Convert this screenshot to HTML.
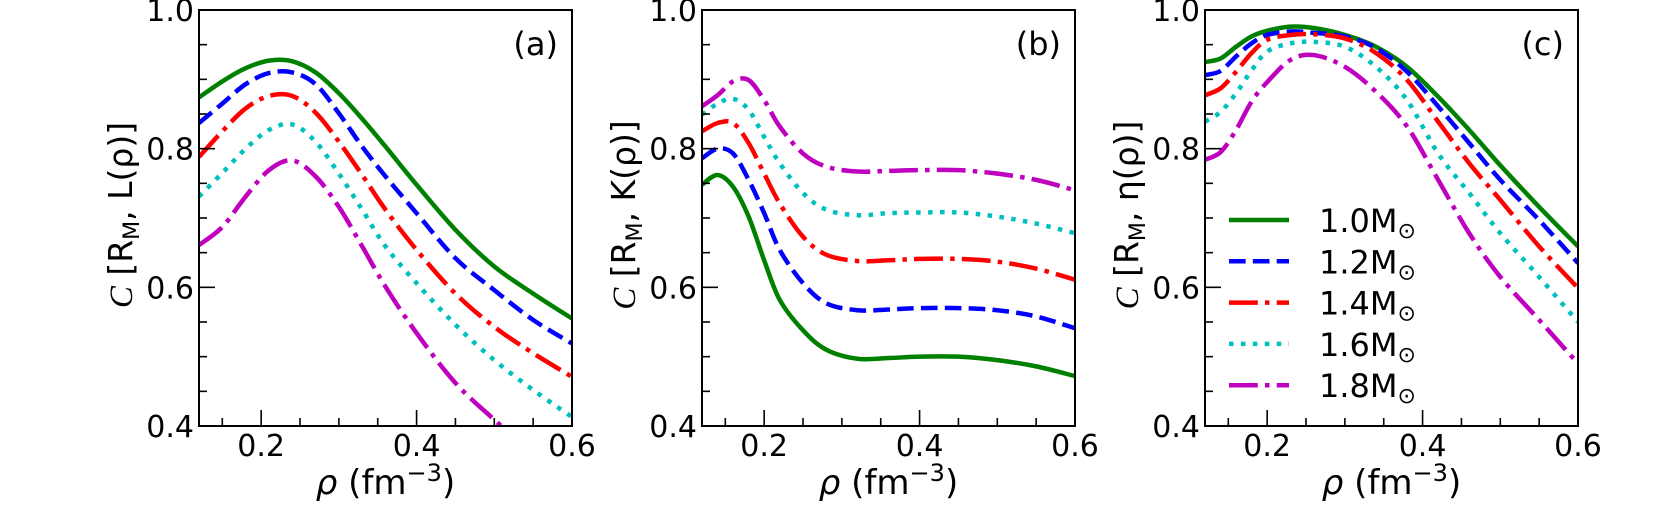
<!DOCTYPE html>
<html><head><meta charset="utf-8"><style>
html,body{margin:0;padding:0;background:#fff;}
svg{display:block;font-family:"DejaVu Sans","Liberation Sans",sans-serif;}
</style></head><body>
<svg id="fig" width="1661" height="508" viewBox="0 0 1661 508" xmlns="http://www.w3.org/2000/svg"></svg>
<script>
// ---- data ----
const xsA = [0.12,0.15,0.18,0.21,0.24,0.27,0.30,0.33,0.36,0.40,0.45,0.50,0.55,0.60];
const a10 = [0.874,0.897,0.916,0.927,0.926,0.910,0.880,0.843,0.803,0.748,0.683,0.630,0.591,0.555];
const a12 = [0.837,0.865,0.893,0.909,0.910,0.893,0.851,0.803,0.760,0.707,0.642,0.596,0.553,0.519];
const a14 = [0.788,0.825,0.858,0.876,0.876,0.852,0.810,0.762,0.712,0.654,0.591,0.543,0.505,0.471];
const a16 = [0.731,0.765,0.800,0.827,0.835,0.810,0.764,0.712,0.659,0.606,0.546,0.495,0.452,0.413];
const a18 = [0.661,0.687,0.731,0.769,0.783,0.760,0.716,0.659,0.601,0.534,0.462,0.409,0.360,0.320];

const xsB = [0.12,0.14,0.16,0.18,0.20,0.22,0.25,0.28,0.32,0.36,0.40,0.45,0.50,0.55,0.60];
const b10 = [0.748,0.762,0.745,0.702,0.639,0.582,0.538,0.510,0.497,0.498,0.500,0.500,0.495,0.486,0.472];
const b12 = [0.786,0.800,0.793,0.755,0.707,0.654,0.606,0.577,0.567,0.568,0.570,0.570,0.567,0.558,0.541];
const b14 = [0.825,0.837,0.837,0.808,0.764,0.721,0.673,0.647,0.638,0.639,0.641,0.641,0.637,0.627,0.611];
const b16 = [0.849,0.865,0.872,0.856,0.817,0.779,0.736,0.712,0.704,0.707,0.708,0.708,0.702,0.692,0.678];
const b18 = [0.861,0.877,0.897,0.899,0.870,0.832,0.793,0.774,0.767,0.768,0.769,0.769,0.764,0.755,0.740];

const xsC = [0.12,0.14,0.16,0.18,0.20,0.23,0.26,0.30,0.34,0.38,0.42,0.46,0.50,0.55,0.60];
const c10 = [0.925,0.930,0.947,0.962,0.970,0.976,0.974,0.964,0.947,0.918,0.875,0.827,0.776,0.716,0.659];
const c12 = [0.906,0.912,0.933,0.952,0.964,0.969,0.967,0.962,0.945,0.911,0.861,0.808,0.755,0.697,0.635];
const c14 = [0.877,0.887,0.911,0.938,0.957,0.964,0.965,0.959,0.938,0.899,0.839,0.779,0.726,0.659,0.599];
const c16 = [0.839,0.853,0.880,0.913,0.940,0.952,0.954,0.947,0.918,0.870,0.793,0.736,0.678,0.615,0.550];
const c18 = [0.784,0.795,0.827,0.868,0.896,0.928,0.935,0.918,0.882,0.832,0.755,0.678,0.615,0.553,0.490];

const xTickLabels = ["0.2","0.4","0.6"];
const xTickVals = [0.2,0.4,0.6];
const yTickLabels = ["0.4","0.6","0.8","1.0"];
const yTickVals = [0.4,0.6,0.8,1.0];
const legendLabels = ["1.0","1.2","1.4","1.6","1.8"];

// ---- drawing ----
const NS = "http://www.w3.org/2000/svg";
const svg = document.getElementById("fig");
const X0 = 0.12, X1 = 0.6, Y0 = 0.4, Y1 = 1.0;
const TOP = 10, BOT = 426, W = 373;
const lw = 4.5;
const styles = [
  {c:"#008000", d:""},
  {c:"#0000ff", d:(3.7*lw)+","+(1.6*lw)},
  {c:"#ff0000", d:(6.4*lw)+","+(1.6*lw)+","+(1*lw)+","+(1.6*lw)},
  {c:"#00bfbf", d:(1*lw)+","+(1.65*lw)},
  {c:"#bf00bf", d:(6.4*lw)+","+(1.6*lw)+","+(1*lw)+","+(1.6*lw)}
];
function el(tag, attrs, parent){ const e=document.createElementNS(NS,tag); for(const k in attrs) e.setAttribute(k,attrs[k]); (parent||svg).appendChild(e); return e; }

function smoothPath(pts){
  let d = "M"+pts[0][0].toFixed(2)+","+pts[0][1].toFixed(2);
  for(let i=0;i<pts.length-1;i++){
    const p0=pts[Math.max(i-1,0)], p1=pts[i], p2=pts[i+1], p3=pts[Math.min(i+2,pts.length-1)];
    const c1=[p1[0]+(p2[0]-p0[0])/6, p1[1]+(p2[1]-p0[1])/6];
    const c2=[p2[0]-(p3[0]-p1[0])/6, p2[1]-(p3[1]-p1[1])/6];
    d += " C"+c1[0].toFixed(2)+","+c1[1].toFixed(2)+" "+c2[0].toFixed(2)+","+c2[1].toFixed(2)+" "+p2[0].toFixed(2)+","+p2[1].toFixed(2);
  }
  return d;
}

const panels = [
  {left:199, xs:xsA, series:[a10,a12,a14,a16,a18], tag:"(a)", fn:"L", key:"a"},
  {left:702, xs:xsB, series:[b10,b12,b14,b16,b18], tag:"(b)", fn:"K", key:"b"},
  {left:1205, xs:xsC, series:[c10,c12,c14,c16,c18], tag:"(c)", fn:"η", key:"c"}
];

panels.forEach(function(p, pi){
  const g = el("g", {});
  
  
  const sx = v => p.left + (v-X0)/(X1-X0)*W;
  const sy = v => BOT - (v-Y0)/(Y1-Y0)*(BOT-TOP);
  const cp = el("clipPath", {id:"clip"+pi}, g);
  el("rect", {x:p.left, y:TOP, width:W, height:BOT-TOP}, cp);

  p.series.forEach(function(vals, si){
    const pts = p.xs.map((x,i)=>[sx(x), sy(vals[i])]);
    const path = el("path", {d:smoothPath(pts), fill:"none", stroke:styles[si].c, "stroke-width":lw, "clip-path":"url(#clip"+pi+")"}, g);
    if(styles[si].d) path.setAttribute("stroke-dasharray", styles[si].d);
    
    
  });

  for(let k=0;k<=10;k++){
    const v = 0.15 + k*0.05; if(v>0.6001) break;
    const major = Math.abs(v*10 - Math.round(v*10))<1e-6 && Math.round(v*10)%2===0;
    const x = sx(v), len = major?16:8;
    const t = el("line", {x1:x, y1:BOT, x2:x, y2:BOT-len, stroke:"#000", "stroke-width":1.6}, g);
    
    
  }
  for(let k=1;k<12;k++){
    const v = 0.4 + k*0.05;
    const major = k%4===0;
    const y = sy(v), len = major?16:8;
    const t = el("line", {x1:p.left, y1:y, x2:p.left+len, y2:y, stroke:"#000", "stroke-width":1.6}, g);
    
    
  }
  xTickVals.forEach(function(v,i){
    const t = el("text", {x:sx(v), y:456, "font-size":30, "text-anchor":"middle", fill:"#000"}, g);
    t.textContent = xTickLabels[i];
    
    
  });
  yTickVals.forEach(function(v,i){
    const t = el("text", {x:p.left-5, y:sy(v)+11, "font-size":30, "text-anchor":"end", fill:"#000"}, g);
    t.textContent = yTickLabels[i];
    
    
  });

  const fr = el("rect", {x:p.left, y:TOP, width:W, height:BOT-TOP, fill:"none", stroke:"#000", "stroke-width":2}, g);
  
  

  const tg = el("text", {x:p.left+W-14, y:55, "font-size":32, "text-anchor":"end", fill:"#000"}, g);
  tg.textContent = p.tag;
  
  

  const xl = el("text", {x:p.left+W/2, y:494, "font-size":34, "text-anchor":"middle", fill:"#000"}, g);
  xl.innerHTML = '<tspan font-style="italic">ρ</tspan> (fm<tspan dy="-13" font-size="24">−3</tspan><tspan dy="13">)</tspan>';
  
  

  const cx = p.left-79, cy = 215;
  const yl = el("text", {x:cx, y:cy, "font-size":33, "text-anchor":"middle", fill:"#000", transform:"rotate(-90 "+cx+" "+cy+") translate(0 12)"}, g);
  yl.innerHTML = '<tspan font-style="italic" font-family="Liberation Serif, serif">C</tspan> [R<tspan dy="7" font-size="22">M</tspan><tspan dy="-7">, '+p.fn+'(ρ)]</tspan>';
  
  
});

const lg = el("g", {});


legendLabels.forEach(function(lab, i){
  const y = 220 + i*41.3;
  const ln = el("line", {x1:1229, y1:y, x2:1289, y2:y, stroke:styles[i].c, "stroke-width":lw}, lg);
  if(styles[i].d) ln.setAttribute("stroke-dasharray", styles[i].d);
  
  
  const t = el("text", {x:1319, y:y+12, "font-size":32, fill:"#000"}, lg);
  t.innerHTML = lab + 'M<tspan dy="6" font-size="22">⊙</tspan>';
  
  
});
</script>
</body></html>
